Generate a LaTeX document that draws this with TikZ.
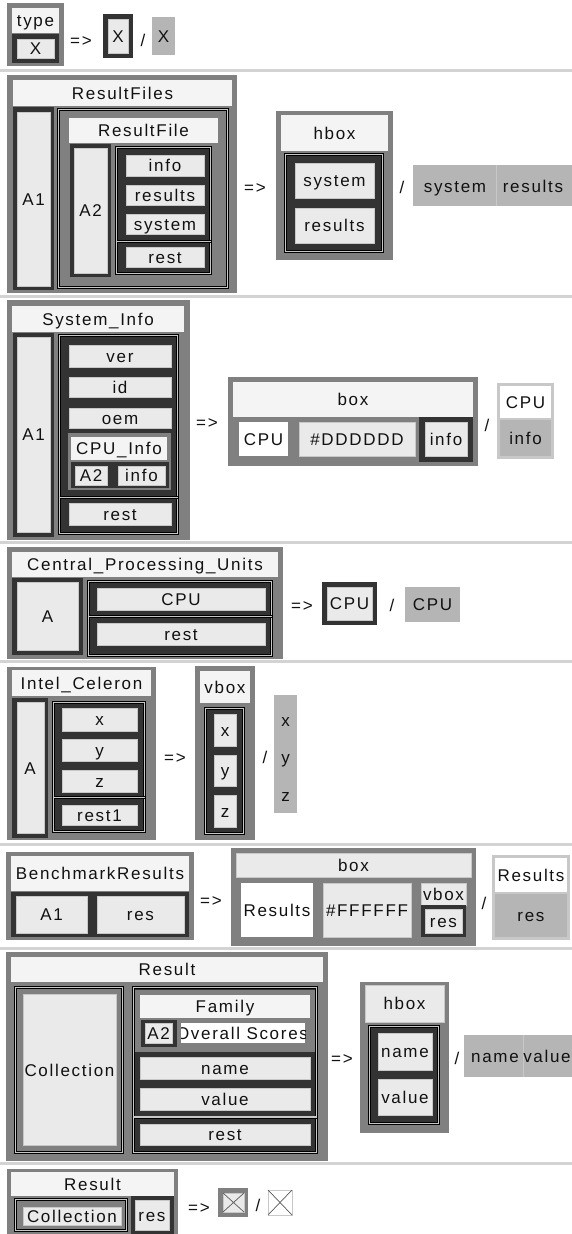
\documentclass[tikz,border=0pt]{standalone}
\usepackage{fontspec}
\setmainfont{Liberation Sans}[LetterSpace=10]
\definecolor{cgray}{HTML}{808080}
\definecolor{cdark}{HTML}{333333}
\definecolor{clight}{HTML}{EAEAEA}
\definecolor{cedge}{HTML}{C8C8C8}
\definecolor{clab}{HTML}{F4F4F4}
\definecolor{cres}{HTML}{B5B5B5}
\definecolor{csep}{HTML}{D3D3D3}
\definecolor{ctext}{HTML}{111111}
\tikzset{
 outerbox/.style={fill=cgray},
 darkbox/.style={fill=cdark},
 lightbox/.style={fill=clight, draw=cedge, line width=0.6pt},
 labbox/.style={fill=clab},
 whitebox/.style={fill=white},
 resbox/.style={fill=cres},
 sepbar/.style={fill=csep},
 dbl/.style={draw=black, double=cedge, line width=0.9pt, double distance=1.2pt},
 txt/.style={inner sep=0pt, text height=12pt, text depth=0pt, font=\fontsize{17}{20}\selectfont, text=ctext},
 xline/.style={draw=black!65, line width=0.7pt},
}
\begin{document}
\begin{tikzpicture}[x=1pt,y=-1pt]
\useasboundingbox (0,0) rectangle (572,1234);
\fill[white] (0,0) rectangle (572,1234);
% ---------- row 1
\fill[outerbox] (7,3) rectangle (64,66);
\fill[labbox] (12,8) rectangle (59,33);
\fill[darkbox] (12,34) rectangle (59,63);
\filldraw[lightbox] (17,39) rectangle (54,58);
\node[txt] (r1type) at (35.5,20.5) {type};
\node[txt] (r1x) at (35.5,48.5) {X};
\node[txt] (r1arr) at (81,40) {=>};
\fill[darkbox] (103,14) rectangle (133,58);
\filldraw[lightbox] (108,19) rectangle (128,53);
\node[txt] (r1x2) at (118,36) {X};
\node[txt] (r1sl) at (143,40) {/};
\fill[resbox] (152,17) rectangle (175,55);
\node[txt] (r1x3) at (163.5,36) {X};
\fill[sepbar] (0,69) rectangle (572,72);
% ---------- row 2
\fill[outerbox] (7,75) rectangle (237,293);
\fill[labbox] (13,80) rectangle (232,106);
\node[txt] (r2lab) at (122.5,93) {ResultFiles};
\fill[darkbox] (13,107) rectangle (54,290);
\filldraw[lightbox] (17,112) rectangle (50,286);
\node[txt] (r2a1) at (33.5,199) {A1};
\filldraw[dbl, fill=cgray] (58.5,109.5) rectangle (227.5,287.5);
\fill[labbox] (69,118) rectangle (218,143);
\node[txt] (r2rf) at (143.5,130.5) {ResultFile};
\fill[darkbox] (70,144) rectangle (111,277);
\filldraw[lightbox] (74,148) rectangle (107,273);
\node[txt] (r2a2) at (90.5,210.5) {A2};
\filldraw[dbl, fill=cdark] (116.5,147.5) rectangle (210.5,273.5);
\filldraw[lightbox] (126,155) rectangle (204,176);
\node[txt] (r2info) at (165,165.5) {info};
\filldraw[lightbox] (126,185) rectangle (204,205);
\node[txt] (r2res) at (165,195) {results};
\filldraw[lightbox] (126,214) rectangle (204,234);
\node[txt] (r2sys) at (165,224) {system};
\draw[dbl] (116.5,241.5) -- (210.5,241.5);
\filldraw[lightbox] (126,247) rectangle (204,267);
\node[txt] (r2rest) at (165,257) {rest};
\node[txt] (r2arr) at (255,187) {=>};
\fill[outerbox] (276,111) rectangle (393,260);
\fill[labbox] (281,115) rectangle (388,151);
\node[txt] (r2hbox) at (334.5,133) {hbox};
\filldraw[dbl, fill=cdark] (285.5,154.5) rectangle (382.5,251.5);
\filldraw[lightbox] (295,163) rectangle (374,198);
\node[txt] (r2sys2) at (334.5,180.5) {system};
\filldraw[lightbox] (295,208) rectangle (374,243);
\node[txt] (r2res2) at (334.5,225.5) {results};
\node[txt] (r2sl) at (402,187) {/};
\fill[resbox] (413,165) rectangle (572,206);
\draw[cedge, line width=0.8pt] (496,165) -- (496,206);
\node[txt] (r2sys3) at (455,186) {system};
\node[txt] (r2res3) at (533,186) {results};
\fill[sepbar] (0,295) rectangle (572,298);
% ---------- row 3
\fill[outerbox] (7,300) rectangle (190,540);
\fill[labbox] (12,306) rectangle (184,332);
\node[txt] (r3lab) at (98,319) {System\_Info};
\fill[darkbox] (13,333) rectangle (54,537);
\filldraw[lightbox] (17,337) rectangle (50,532);
\node[txt] (r3a1) at (33.5,434.5) {A1};
\filldraw[dbl, fill=cdark] (59.5,335.5) rectangle (177.5,533.5);
\filldraw[lightbox] (69,345) rectangle (171,367);
\node[txt] (r3ver) at (120,356) {ver};
\filldraw[lightbox] (69,377) rectangle (171,397);
\node[txt] (r3id) at (120,387) {id};
\filldraw[lightbox] (69,408) rectangle (171,428);
\node[txt] (r3oem) at (120,418) {oem};
\fill[outerbox] (68,433) rectangle (171,490);
\fill[labbox] (71,437) rectangle (167,460);
\node[txt] (r3cpui) at (119,448.5) {CPU\_Info};
\fill[darkbox] (71,462) rectangle (169,488);
\filldraw[lightbox] (75,466) rectangle (107,485);
\node[txt] (r3a2) at (91,475.5) {A2};
\filldraw[lightbox] (118,466) rectangle (165,485);
\node[txt] (r3info) at (141.5,475.5) {info};
\draw[dbl] (59.5,497.5) -- (177.5,497.5);
\filldraw[lightbox] (69,503) rectangle (171,525);
\node[txt] (r3rest) at (120,514) {rest};
\node[txt] (r3arr) at (207,422) {=>};
\fill[outerbox] (228,377) rectangle (478,466);
\fill[labbox] (233,382) rectangle (473,417);
\node[txt] (r3box) at (353,399.5) {box};
\fill[whitebox] (239,422) rectangle (288,456);
\node[txt] (r3cpu) at (263.5,439) {CPU};
\filldraw[lightbox] (299,422) rectangle (415,456);
\node[txt] (r3dd) at (357,439) {\#DDDDDD};
\fill[darkbox] (419,417) rectangle (473,462);
\filldraw[lightbox] (425,422) rectangle (467,456);
\node[txt] (r3info2) at (446,439) {info};
\node[txt] (r3sl) at (487,425) {/};
\fill[cedge] (497,383) rectangle (554,459);
\fill[whitebox] (500,386) rectangle (551,418);
\fill[resbox] (500,420) rectangle (551,456);
\node[txt] (r3cpu2) at (525.5,402.5) {CPU};
\node[txt] (r3info3) at (525.5,438) {info};
\fill[sepbar] (0,541) rectangle (572,544);
% ---------- row 4
\fill[outerbox] (7,547) rectangle (283,659);
\fill[labbox] (12,552) rectangle (278,577);
\node[txt] (r4lab) at (145,564.5) {Central\_Processing\_Units};
\fill[darkbox] (12,578) rectangle (83,655);
\filldraw[lightbox] (17,582) rectangle (78,650);
\node[txt] (r4a) at (47.5,616.5) {A};
\filldraw[dbl, fill=cdark] (88.5,581.5) rectangle (271.5,655.5);
\filldraw[lightbox] (97,588) rectangle (265,610);
\node[txt] (r4cpu) at (181,599) {CPU};
\draw[dbl] (88.5,616.5) -- (271.5,616.5);
\filldraw[lightbox] (97,623) rectangle (265,645);
\node[txt] (r4rest) at (181,634) {rest};
\node[txt] (r4arr) at (302,605) {=>};
\fill[darkbox] (322,582) rectangle (377,625);
\filldraw[lightbox] (327,587) rectangle (372,620);
\node[txt] (r4cpu2) at (349.5,603.5) {CPU};
\node[txt] (r4sl) at (392,605) {/};
\fill[resbox] (405,587) rectangle (460,622);
\node[txt] (r4cpu3) at (432.5,604.5) {CPU};
\fill[sepbar] (0,660) rectangle (572,663);
% ---------- row 5
\fill[outerbox] (7,667) rectangle (156,840);
\fill[labbox] (12,670) rectangle (151,696);
\node[txt] (r5lab) at (81.5,683) {Intel\_Celeron};
\fill[darkbox] (12,698) rectangle (48,838);
\filldraw[lightbox] (17,702) rectangle (44,833);
\node[txt] (r5a) at (30,768) {A};
\filldraw[dbl, fill=cdark] (53.5,702.5) rectangle (144.5,831.5);
\filldraw[lightbox] (62,708) rectangle (137,731);
\node[txt] (r5x) at (99.5,719.5) {x};
\filldraw[lightbox] (62,739) rectangle (137,761);
\node[txt] (r5y) at (99.5,750) {y};
\filldraw[lightbox] (62,770) rectangle (137,792);
\node[txt] (r5z) at (99.5,781) {z};
\draw[dbl] (53.5,797.5) -- (144.5,797.5);
\filldraw[lightbox] (62,805) rectangle (137,825);
\node[txt] (r5rest) at (99.5,815) {rest1};
\node[txt] (r5arr) at (175,757) {=>};
\fill[outerbox] (195,666) rectangle (255,840);
\fill[labbox] (200,671) rectangle (250,703);
\node[txt] (r5vbox) at (225,687) {vbox};
\filldraw[dbl, fill=cdark] (205.5,708.5) rectangle (243.5,833.5);
\filldraw[lightbox] (214,714) rectangle (236,746);
\node[txt] (r5x2) at (225,730) {x};
\filldraw[lightbox] (214,755) rectangle (236,786);
\node[txt] (r5y2) at (225,770.5) {y};
\filldraw[lightbox] (214,795) rectangle (236,827);
\node[txt] (r5z2) at (225,811) {z};
\node[txt] (r5sl) at (265,757) {/};
\fill[resbox] (274,695) rectangle (297,813);
\node[txt] (r5x3) at (285.5,720) {x};
\node[txt] (r5y3) at (285.5,757) {y};
\node[txt] (r5z3) at (285.5,795) {z};
\fill[sepbar] (0,843) rectangle (572,846);
% ---------- row 6
\fill[outerbox] (6,852) rectangle (194,940);
\fill[labbox] (11,856) rectangle (189,891);
\node[txt] (r6lab) at (100,873.5) {BenchmarkResults};
\fill[darkbox] (11,892) rectangle (189,937);
\filldraw[lightbox] (16,896) rectangle (87,933);
\node[txt] (r6a1) at (51.5,914.5) {A1};
\filldraw[lightbox] (97,896) rectangle (184,933);
\node[txt] (r6res) at (140.5,914.5) {res};
\node[txt] (r6arr) at (211,900) {=>};
\fill[outerbox] (231,848) rectangle (476,946);
\filldraw[lightbox] (236,853) rectangle (471,877);
\node[txt] (r6box) at (353.5,865) {box};
\fill[whitebox] (241,883) rectangle (313,937);
\node[txt] (r6resu) at (277,910) {Results};
\filldraw[lightbox] (323,883) rectangle (411,937);
\node[txt] (r6ff) at (367,910) {\#FFFFFF};
\filldraw[lightbox] (421,883) rectangle (466,905);
\node[txt] (r6vbox) at (443.5,894) {vbox};
\fill[darkbox] (421,905) rectangle (466,937);
\filldraw[lightbox] (425,909) rectangle (462,933);
\node[txt] (r6res2) at (443.5,921) {res};
\node[txt] (r6sl) at (484,903) {/};
\fill[cedge] (492,855) rectangle (570,940);
\fill[whitebox] (495,858) rectangle (567,892);
\fill[resbox] (495,894) rectangle (567,937);
\node[txt] (r6resu2) at (531,875) {Results};
\node[txt] (r6res3) at (531,915.5) {res};
\fill[sepbar] (0,947) rectangle (572,950);
% ---------- row 7
\fill[outerbox] (6,952) rectangle (328,1161);
\fill[labbox] (11,957) rectangle (323,982);
\node[txt] (r7lab) at (167,969.5) {Result};
\filldraw[dbl, fill=cgray] (15.5,987.5) rectangle (122.5,1152.5);
\filldraw[lightbox] (23,994) rectangle (116,1145);
\node[txt] (r7coll) at (69.5,1070) {Collection};
\filldraw[dbl, fill=cdark] (133.5,987.5) rectangle (316.5,1152.5);
\fill[outerbox] (135,990) rectangle (315,1052);
\fill[labbox] (140,995) rectangle (310,1018);
\node[txt] (r7fam) at (225,1006.5) {Family};
\fill[darkbox] (141,1020) rectangle (177,1047);
\filldraw[lightbox] (145,1023) rectangle (172,1043);
\node[txt] (r7a2) at (158.5,1033) {A2};
\fill[whitebox] (181,1023) rectangle (305,1043);
\begin{scope}
\clip (181,1023) rectangle (305,1043);
\node[txt] (r7ov) at (242,1033) {Overall Scores};
\end{scope}
\filldraw[lightbox] (140,1057) rectangle (310,1079);
\node[txt] (r7name) at (225,1068) {name};
\filldraw[lightbox] (140,1088) rectangle (310,1110);
\node[txt] (r7val) at (225,1099) {value};
\draw[dbl] (133.5,1117) -- (316.5,1117);
\filldraw[lightbox] (140,1124) rectangle (310,1145);
\node[txt] (r7rest) at (225,1134.5) {rest};
\node[txt] (r7arr) at (342,1058) {=>};
\fill[outerbox] (360,982) rectangle (449,1133);
\filldraw[lightbox] (365,985) rectangle (444,1022);
\node[txt] (r7hbox) at (404.5,1003.5) {hbox};
\filldraw[dbl, fill=cdark] (369.5,1026.5) rectangle (438.5,1123.5);
\filldraw[lightbox] (378,1033) rectangle (432,1070);
\node[txt] (r7name2) at (405,1051.5) {name};
\filldraw[lightbox] (378,1079) rectangle (432,1115);
\node[txt] (r7val2) at (405,1097) {value};
\node[txt] (r7sl) at (457,1058) {/};
\fill[resbox] (464,1035) rectangle (572,1077);
\draw[cedge, line width=0.8pt] (523,1035) -- (523,1077);
\node[txt] (r7name3) at (495,1056) {name};
\node[txt] (r7val3) at (547,1056) {value};
\fill[sepbar] (0,1162) rectangle (572,1165);
% ---------- row 8
\fill[outerbox] (7,1169) rectangle (178,1234);
\fill[labbox] (11,1172) rectangle (174,1196);
\node[txt] (r8lab) at (92.5,1184) {Result};
\filldraw[dbl, fill=cgray] (15.5,1199.5) rectangle (126.5,1230.5);
\filldraw[lightbox] (23,1207) rectangle (121,1225);
\node[txt] (r8coll) at (72,1216) {Collection};
\fill[darkbox] (131,1196) rectangle (174,1234);
\filldraw[lightbox] (135,1200) rectangle (169,1230);
\node[txt] (r8res) at (152,1215) {res};
\node[txt] (r8arr) at (199,1207) {=>};
\fill[outerbox] (218,1188) rectangle (248,1217);
\filldraw[lightbox] (223,1193) rectangle (244,1212);
\draw[xline] (223,1193) -- (244,1212) (223,1212) -- (244,1193);
\node[txt] (r8sl) at (258,1205) {/};
\filldraw[fill=white, draw=cedge, line width=1pt] (268,1190) rectangle (292,1215);
\draw[xline] (268,1190) -- (292,1215) (268,1215) -- (292,1190);
\end{tikzpicture}
\end{document}
